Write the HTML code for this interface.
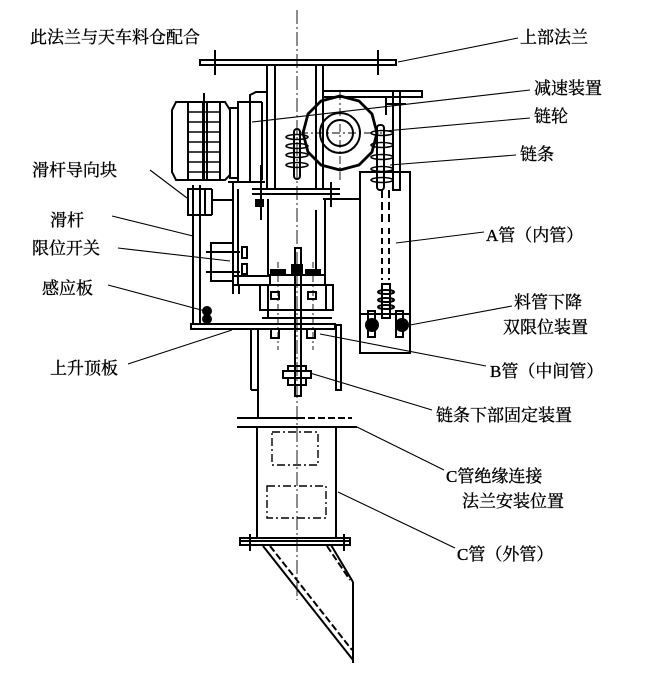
<!DOCTYPE html>
<html><head><meta charset="utf-8"><style>
html,body{margin:0;padding:0;background:#fff;}
svg{display:block}
text{font-family:"Liberation Serif","Noto Serif CJK SC",serif;font-size:17px;fill:#000;stroke:#000;stroke-width:0.35;}
</style></head><body>
<svg width="666" height="677" viewBox="0 0 666 677" xmlns="http://www.w3.org/2000/svg">
<g fill="none" stroke="#000" stroke-width="2">
<line x1="297" y1="10" x2="297" y2="600" stroke-width="0.9" stroke-dasharray="14,3,2,3"/>
<rect x="200" y="60" width="196" height="5"/>
<line x1="215" y1="50" x2="215" y2="75"/><line x1="378" y1="50" x2="378" y2="75"/>
<line x1="267" y1="65" x2="267" y2="190"/><line x1="275" y1="65" x2="275" y2="190"/>
<line x1="316" y1="65" x2="316" y2="190"/><line x1="323" y1="65" x2="323" y2="190"/>
<path d="M176 102 H225 L230 110 V175 L225 180 H176 L172 172 V110 Z"/>
<line x1="188" y1="102" x2="188" y2="180"/><line x1="203" y1="102" x2="203" y2="180"/><line x1="207" y1="102" x2="207" y2="180"/><line x1="220" y1="102" x2="220" y2="180"/>
<g stroke-width="1.4">
<line x1="188" y1="112" x2="220" y2="112"/><line x1="188" y1="122" x2="220" y2="122"/><line x1="188" y1="132" x2="220" y2="132"/><line x1="188" y1="142" x2="220" y2="142"/><line x1="188" y1="152" x2="220" y2="152"/><line x1="188" y1="162" x2="220" y2="162"/><line x1="188" y1="172" x2="220" y2="172"/>
</g>
<line x1="204" y1="93" x2="204" y2="180"/>
<rect x="230" y="108" width="8" height="70"/><rect x="238" y="102" width="12" height="80"/>
<path d="M250 102 V95 L256 92 H267"/><line x1="250" y1="102" x2="262" y2="102"/><line x1="262" y1="102" x2="262" y2="180"/>
<polygon points="340,96 359,101 372,114 377,133 372,152 359,165 340,170 321,165 308,152 303,133 308,114 321,101" stroke-width="2.8"/>
<circle cx="340" cy="133" r="20"/><circle cx="340" cy="133" r="13"/>
<line x1="300" y1="133" x2="382" y2="133" stroke-width="0.9" stroke-dasharray="8,3,2,3"/>
<line x1="340" y1="92" x2="340" y2="180" stroke-width="0.9" stroke-dasharray="8,3,2,3"/>
<rect x="323" y="91" width="99" height="6"/>
<rect x="393" y="91" width="7" height="99"/>
<line x1="386" y1="97" x2="386" y2="115"/><line x1="386" y1="104" x2="406" y2="104"/>
<rect x="294" y="129" width="6" height="50" rx="3"/>
<g stroke-width="1.6">
<ellipse cx="297" cy="137" rx="11" ry="2.5"/><ellipse cx="297" cy="146" rx="11" ry="2.5"/><ellipse cx="297" cy="155" rx="11" ry="2.5"/><ellipse cx="297" cy="165" rx="11" ry="2.5"/>
</g>
<rect x="377" y="125" width="7" height="65" rx="3"/>
<g stroke-width="1.6">
<ellipse cx="382" cy="133" rx="11" ry="2.5"/><ellipse cx="382" cy="145" rx="11" ry="2.5"/><ellipse cx="382" cy="157" rx="11" ry="2.5"/><ellipse cx="382" cy="169" rx="11" ry="2.5"/><ellipse cx="382" cy="180" rx="11" ry="2.5"/>
</g>
<line x1="252" y1="189" x2="340" y2="189"/><line x1="252" y1="194" x2="340" y2="194"/>
<line x1="331" y1="182" x2="331" y2="207"/>
<line x1="261" y1="165" x2="261" y2="220"/>
<line x1="228" y1="182" x2="265" y2="182"/>
<line x1="233" y1="182" x2="233" y2="285"/><line x1="238" y1="189" x2="238" y2="285"/>
<line x1="268" y1="199" x2="268" y2="276"/><line x1="325" y1="199" x2="325" y2="276"/>
<line x1="323" y1="199" x2="360" y2="199"/>
<rect x="256" y="200" width="7" height="6" fill="#000"/>
<line x1="316" y1="210" x2="316" y2="276"/>
<line x1="193" y1="185" x2="193" y2="325"/><line x1="200" y1="185" x2="200" y2="325"/>
<rect x="188" y="189" width="17" height="26"/><line x1="212" y1="189" x2="212" y2="215"/><line x1="205" y1="189" x2="212" y2="189"/><line x1="205" y1="215" x2="212" y2="215"/>
<line x1="212" y1="200" x2="233" y2="200"/>
<rect x="211" y="243" width="22" height="38"/>
<line x1="206" y1="252" x2="240" y2="252"/><line x1="206" y1="272" x2="240" y2="272"/>
<rect x="242" y="247" width="5" height="11"/><rect x="242" y="264" width="5" height="10"/>
<circle cx="207" cy="311" r="4" fill="#000"/><circle cx="207" cy="319" r="4" fill="#000"/>
<rect x="233" y="276" width="37" height="9"/>
<line x1="233" y1="285" x2="233" y2="294"/><line x1="239" y1="285" x2="239" y2="294"/>
<rect x="270" y="275" width="55" height="10"/>
<rect x="271" y="270" width="14" height="5" fill="#000"/><rect x="306" y="270" width="14" height="5" fill="#000"/>
<rect x="260" y="285" width="73" height="25"/><line x1="268" y1="285" x2="268" y2="310"/><line x1="326" y1="285" x2="326" y2="310"/>
<rect x="271" y="292" width="8" height="7"/><rect x="308" y="292" width="8" height="7"/>
<line x1="262" y1="318" x2="332" y2="318"/><line x1="268" y1="310" x2="268" y2="318"/>
<rect x="295" y="248" width="6" height="148"/>
<rect x="292" y="265" width="10" height="8" fill="#000"/>
<rect x="191" y="324" width="144" height="5"/>
<rect x="336" y="325" width="5" height="65"/>
<rect x="271" y="329" width="8" height="9"/><rect x="307" y="329" width="8" height="9"/>
<line x1="278" y1="262" x2="278" y2="350" stroke-width="0.9" stroke-dasharray="6,3,2,3"/><line x1="313" y1="262" x2="313" y2="350" stroke-width="0.9" stroke-dasharray="6,3,2,3"/>
<line x1="251" y1="329" x2="251" y2="390"/><line x1="258" y1="329" x2="258" y2="418"/><line x1="251" y1="390" x2="258" y2="390"/>
<rect x="283" y="371" width="28" height="7"/><rect x="288" y="366" width="18" height="5"/><rect x="288" y="378" width="18" height="7"/>
<rect x="360" y="172" width="50" height="181"/>
<line x1="382" y1="190" x2="382" y2="225" stroke-dasharray="8,4"/><line x1="389" y1="190" x2="389" y2="225" stroke-dasharray="8,4"/>
<line x1="382" y1="228" x2="382" y2="280" stroke-dasharray="6,4"/><line x1="389" y1="228" x2="389" y2="280" stroke-dasharray="6,4"/>
<rect x="382" y="284" width="8" height="34"/>
<ellipse cx="386" cy="292" rx="8" ry="2"/><ellipse cx="386" cy="300" rx="8" ry="2"/><ellipse cx="386" cy="307" rx="8" ry="2"/>
<line x1="360" y1="314" x2="410" y2="314"/>
<rect x="368" y="311" width="7" height="26"/><rect x="396" y="311" width="7" height="26"/>
<circle cx="372" cy="325" r="6" fill="#000"/><circle cx="402" cy="325" r="6" fill="#000"/>
<line x1="237" y1="418" x2="298" y2="418"/><line x1="298" y1="418" x2="352" y2="418" stroke-dasharray="7,3"/>
<line x1="237" y1="427" x2="357" y2="427"/>
<line x1="257" y1="428" x2="257" y2="538"/><line x1="336" y1="428" x2="336" y2="538"/>
<rect x="272" y="432" width="46" height="33" stroke-width="1.4" stroke-dasharray="8,3,2,3"/>
<rect x="267" y="486" width="59" height="32" stroke-width="1.4" stroke-dasharray="8,3,2,3"/>
<rect x="240" y="538" width="110" height="7"/><line x1="240" y1="541" x2="350" y2="541"/>
<line x1="250" y1="534" x2="250" y2="551"/><line x1="344" y1="534" x2="344" y2="551"/>
<line x1="263" y1="546" x2="353" y2="660"/>
<line x1="270" y1="546" x2="352" y2="650" stroke-dasharray="7,3"/>
<line x1="327" y1="546" x2="350" y2="580" stroke-dasharray="7,3"/>
<line x1="331" y1="545" x2="353" y2="582"/><line x1="353" y1="582" x2="353" y2="663"/>
</g>
<g stroke="#000" stroke-width="1.1" fill="none">
<line x1="398" y1="62" x2="518" y2="38"/>
<line x1="252" y1="122" x2="530" y2="90"/>
<line x1="385" y1="131" x2="530" y2="118"/>
<line x1="390" y1="165" x2="516" y2="155"/>
<line x1="150" y1="170" x2="187" y2="198"/>
<line x1="112" y1="216" x2="193" y2="236"/>
<line x1="118" y1="248" x2="230" y2="261"/>
<line x1="108" y1="285" x2="205" y2="311"/>
<line x1="128" y1="364" x2="232" y2="330"/>
<line x1="396" y1="243" x2="484" y2="232"/>
<line x1="410" y1="325" x2="512" y2="306"/>
<line x1="320" y1="334" x2="486" y2="366"/>
<line x1="310" y1="373" x2="432" y2="410"/>
<line x1="357" y1="427" x2="444" y2="470"/>
<line x1="338" y1="492" x2="455" y2="548"/>
</g>
<text x="30" y="43">此法兰与天车料仓配合</text>
<text x="520" y="43">上部法兰</text>
<text x="534" y="94">减速装置</text>
<text x="534" y="122">链轮</text>
<text x="520" y="160">链条</text>
<text x="32" y="176">滑杆导向块</text>
<text x="50" y="226">滑杆</text>
<text x="32" y="254">限位开关</text>
<text x="42" y="294">感应板</text>
<text x="50" y="374">上升顶板</text>
<text x="486" y="241">A管（内管）</text>
<text x="514" y="308">料管下降</text>
<text x="503" y="333">双限位装置</text>
<text x="490" y="377">B管（中间管）</text>
<text x="436" y="421">链条下部固定装置</text>
<text x="446" y="482">C管绝缘连接</text>
<text x="462" y="507">法兰安装位置</text>
<text x="457" y="560">C管（外管）</text>
</svg>
</body></html>
